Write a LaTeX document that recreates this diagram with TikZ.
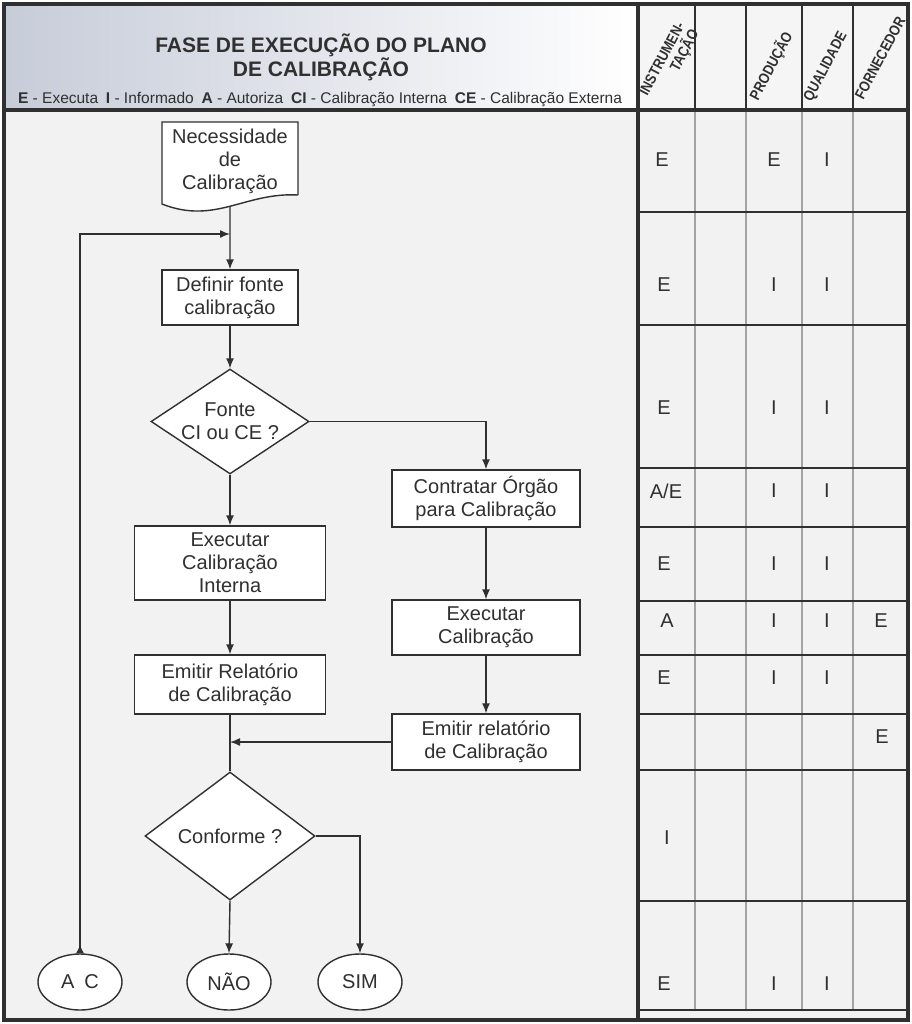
\documentclass[tikz,border=0pt]{standalone}
\usepackage{fontspec}
\setmainfont{Liberation Sans}
\newfontfamily\headfont[FakeStretch=0.85]{Liberation Sans}
\usetikzlibrary{arrows.meta,shapes.geometric}
\definecolor{inkcol}{rgb}{0.19,0.19,0.19}
\definecolor{gridcol}{rgb}{0.64,0.64,0.64}
\definecolor{panelcol}{rgb}{0.95,0.95,0.95}
\definecolor{bandcol}{rgb}{0.78,0.80,0.85}
\begin{document}
\begin{tikzpicture}[x=1bp,y=-1bp,>={Latex[length=10bp,width=8bp]},line join=miter,
  every node/.style={text=inkcol,font=\fontsize{20bp}{23bp}\selectfont},
  procbox/.style={draw=inkcol,line width=1.4bp,fill=white,align=center,inner sep=0pt},
  decision/.style={diamond,draw=inkcol,line width=1.4bp,fill=white,align=center,inner sep=-8bp},
  terminal/.style={ellipse,draw=inkcol,line width=1.4bp,fill=white,minimum width=84bp,minimum height=56bp,inner sep=0pt},
  flow/.style={draw=inkcol,line width=1.4bp},
  colhead/.style={rotate=62,align=right,inner sep=0pt,font=\headfont\bfseries\fontsize{15bp}{16bp}\selectfont},
  ]
  \useasboundingbox (0,0) rectangle (912,1024);
%%
  % Background
  \fill[white] (0,0) rectangle (912,1024);
  \fill[panelcol] (4,110) rectangle (908,1020);
  \shade[left color=bandcol,right color=white] (4,4) rectangle (638,110);
  \fill[white!96!black] (638,4) rectangle (908,110);
  % Grid: columns
  \draw[gridcol,line width=1.2bp] (695,110) -- (695,1010);
  \draw[gridcol,line width=1.2bp] (746,110) -- (746,1010);
  \draw[gridcol,line width=1.2bp] (802,110) -- (802,1010);
  \draw[gridcol,line width=1.2bp] (853,110) -- (853,1010);
  \draw[inkcol,line width=2.5bp] (695,4) -- (695,110);
  \draw[inkcol,line width=2.5bp] (746,4) -- (746,110);
  \draw[inkcol,line width=2.5bp] (802,4) -- (802,110);
  \draw[inkcol,line width=2.5bp] (853,4) -- (853,110);
  % Grid: rows
  \draw[inkcol,line width=2bp] (638,212) -- (908,212);
  \draw[inkcol,line width=2bp] (638,325) -- (908,325);
  \draw[inkcol,line width=2bp] (638,468) -- (908,468);
  \draw[inkcol,line width=2bp] (638,527) -- (908,527);
  \draw[inkcol,line width=2bp] (638,601) -- (908,601);
  \draw[inkcol,line width=2bp] (638,655) -- (908,655);
  \draw[inkcol,line width=2bp] (638,714) -- (908,714);
  \draw[inkcol,line width=2bp] (638,770) -- (908,770);
  \draw[inkcol,line width=2bp] (638,901) -- (908,901);
  \draw[inkcol,line width=2bp] (638,1010) -- (908,1010);
  % Frame
  \draw[inkcol,line width=4bp] (4,4) rectangle (908,1020);
  \draw[inkcol,line width=4bp] (4,110) -- (908,110);
  \draw[inkcol,line width=4bp] (638,4) -- (638,1020);
  % Header
  \node[align=center,font=\bfseries\fontsize{21bp}{23bp}\selectfont] (title) at (321,57)
    {FASE DE EXECUÇÃO DO PLANO\\DE CALIBRAÇÃO};
  \node[font=\fontsize{15.5bp}{17bp}\selectfont] (legend) at (320,100)
    {\textbf{E} - Executa\enspace \textbf{I} - Informado\enspace \textbf{A} - Autoriza\enspace
     \textbf{CI} - Calibração Interna\enspace \textbf{CE} - Calibração Externa};
  \node[colhead] (hins) at (670,63) {INSTRUMEN-\\TAÇÃO};
  \node[colhead] (hprod) at (771,66) {PRODUÇÃO};
  \node[colhead] (hqual) at (826,67) {QUALIDADE};
  \node[colhead] (hforn) at (880,58) {FORNECEDOR};
%%
  % Node: Necessidade
  \draw[flow,fill=white] (298,195) -- (298,122) -- (162,122) -- (162,204)
    .. controls (215,225) and (245,192) .. (298,195) coordinate[pos=0.5] (needfoot);
  \node[align=center,inner sep=0pt] (need) at (230,161) {Necessidade\\de\\Calibração};
  % Node: Definir
  \node[procbox,minimum width=136bp,minimum height=55bp] (definir) at (230,297.5) {Definir fonte\\calibração};
  % Node: Fonte
  \node[decision,aspect=1.5,minimum width=158bp,minimum height=105bp] (fonte) at (230,421.5) {Fonte\\CI ou CE ?};
  % Node: ExecInt
  \node[procbox,minimum width=191bp,minimum height=74bp] (execint) at (230,563) {Executar\\Calibração\\Interna};
  % Node: EmitInt
  \node[procbox,minimum width=191bp,minimum height=59bp] (emitint) at (230,684.5) {Emitir Relatório\\de Calibração};
  % Node: Contratar
  \node[procbox,minimum width=188bp,minimum height=57bp] (contratar) at (486,498.5) {Contratar Órgão\\para Calibração};
  % Node: ExecExt
  \node[procbox,minimum width=188bp,minimum height=55bp] (execext) at (486,627.5) {Executar\\Calibração};
  % Node: EmitExt
  \node[procbox,minimum width=188bp,minimum height=56bp] (emitext) at (486,742) {Emitir relatório\\de Calibração};
  % Node: Conforme
  \node[decision,aspect=1.33,minimum width=170bp,minimum height=128bp] (conforme) at (230,836) {Conforme ?};
  % Node: AC, NAO, SIM
  \node[terminal] (ac) at (80,982) {A\enspace C};
  \node[terminal] (nao) at (229,982) {NÃO};
  \node[terminal] (sim) at (360,982) {SIM};
  \coordinate (loopin) at (230,234);
  \coordinate (merge) at (230,742);
%%
  % Edges
  \draw[flow,->] (needfoot) -- (definir);
  \draw[flow,{Latex[reversed,length=9bp,width=8bp]}->] (ac.north) -- (ac.north |- loopin) -- (loopin);
  \draw[flow,->] (definir) -- (fonte);
  \draw[flow,->] (fonte.east) -| (contratar.north);
  \draw[flow,->] (fonte) -- (execint);
  \draw[flow,->] (execint) -- (emitint);
  \draw[flow,->] (contratar) -- (execext);
  \draw[flow,->] (execext) -- (emitext);
  \draw[flow] (emitint) -- (conforme);
  \draw[flow,->] (emitext.west) -- (merge);
  \draw[flow,->] (conforme.south) -- (nao.north);
  \draw[flow,->] (conforme.east) -| (sim.north);
%%
  % Matrix entries
  \node (m1i) at (662,160) {E};
  \node (m1p) at (774,160) {E};
  \node (m1q) at (827,160) {I};
  \node (m2i) at (664,285) {E};
  \node (m2p) at (774,285) {I};
  \node (m2q) at (827,285) {I};
  \node (m3i) at (664,408) {E};
  \node (m3p) at (774,408) {I};
  \node (m3q) at (827,408) {I};
  \node (m4i) at (666,491) {A/E};
  \node (m4p) at (774,491) {I};
  \node (m4q) at (827,491) {I};
  \node (m5i) at (664,564) {E};
  \node (m5p) at (774,564) {I};
  \node (m5q) at (827,564) {I};
  \node (m6i) at (667,621) {A};
  \node (m6p) at (774,621) {I};
  \node (m6q) at (827,621) {I};
  \node (m6f) at (881,621) {E};
  \node (m7i) at (664,678) {E};
  \node (m7p) at (774,678) {I};
  \node (m7q) at (827,678) {I};
  \node (m8f) at (882,737) {E};
  \node (m9i) at (667,838) {I};
  \node (m10i) at (664,984) {E};
  \node (m10p) at (774,984) {I};
  \node (m10q) at (827,984) {I};
%
\end{tikzpicture}
\end{document}
